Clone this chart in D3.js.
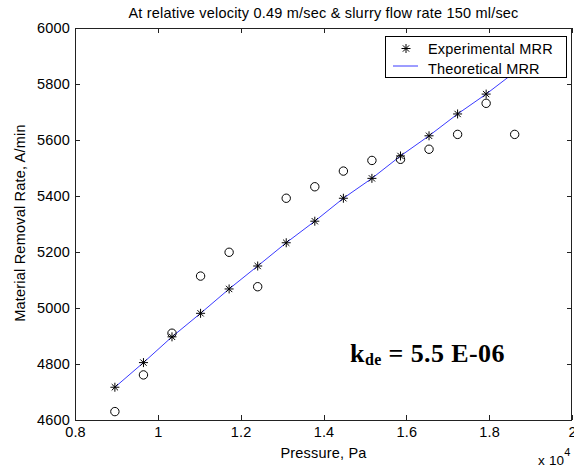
<!DOCTYPE html>
<html>
<head>
<meta charset="utf-8">
<script src="https://cdn.jsdelivr.net/npm/d3@7"></script>
<style>
  html, body { margin: 0; padding: 0; background: #fff; }
  svg { display: block; }
  text { font-family: "Liberation Sans", Arial, Helvetica, sans-serif; fill: #000; letter-spacing: 0.2px; }
</style>
</head>
<body>
<svg id="chart" width="574" height="469"></svg>
<script>
// Pressure (Pa) at each test point
const pressure = [8963, 9653, 10342, 11032, 11721, 12411, 13100, 13790,
                  14480, 15169, 15859, 16548, 17238, 17927, 18616];
// Theoretical MRR (A/min), drawn as the line and the * markers
const theoretical = [4717, 4805, 4897, 4981, 5068, 5150, 5233, 5310,
                     5392, 5463, 5543, 5615, 5693, 5764, 5842];
// Measured MRR (A/min), drawn as open circles
const measured = [4630, 4761, 4910, 5114, 5199, 5076, 5392, 5433,
                  5489, 5527, 5531, 5567, 5620, 5731, 5620];
const xTicks = [8000, 10000, 12000, 14000, 16000, 18000, 20000];
const xTickLabels = ["0.8", "1", "1.2", "1.4", "1.6", "1.8", "2"];
const yTicks = [4600, 4800, 5000, 5200, 5400, 5600, 5800, 6000];
const legendLabels = ["Experimental MRR", "Theoretical MRR"];

const svg = d3.select("#chart");
const L = 75, R = 572, T = 28, B = 420;
const x = d3.scaleLinear().domain([8000, 20000]).range([L, R]);
const y = d3.scaleLinear().domain([4600, 6000]).range([B, T]);
const axisColor = "#222";
const fs = 14.5;

// title, centred over the axes
svg.append("text").attr("x", (L + R) / 2).attr("y", 18).attr("text-anchor", "middle")
  .attr("font-size", fs).text("At relative velocity 0.49 m/sec & slurry flow rate 150 ml/sec");

const plot = svg.append("g");

// box-style axes with inward ticks on all four sides
const tickLen = 5;
const bottom = d3.axisBottom(x).tickValues(xTicks).tickSize(0).tickPadding(7)
  .tickFormat((d, i) => xTickLabels[i]);
const gx = svg.append("g").attr("transform", `translate(0,${B})`).call(bottom);
gx.select(".domain").remove();
gx.selectAll("text").attr("font-size", fs).attr("font-family", null);

const left = d3.axisLeft(y).tickValues(yTicks).tickSize(0).tickPadding(5).tickFormat(d3.format("d"));
const gy = svg.append("g").attr("transform", `translate(${L},0)`).call(left);
gy.select(".domain").remove();
gy.selectAll("text").attr("font-size", fs).attr("font-family", null);

const ticks = svg.append("g").attr("stroke", axisColor).attr("stroke-width", 1);
xTicks.forEach(v => {
  const px = Math.round(x(v)) + 0.5;
  ticks.append("line").attr("x1", px).attr("x2", px).attr("y1", B).attr("y2", B - tickLen);
  ticks.append("line").attr("x1", px).attr("x2", px).attr("y1", T).attr("y2", T + tickLen);
});
yTicks.forEach(v => {
  const py = Math.round(y(v)) + 0.5;
  ticks.append("line").attr("x1", L).attr("x2", L + tickLen).attr("y1", py).attr("y2", py);
  ticks.append("line").attr("x1", R).attr("x2", R - tickLen).attr("y1", py).attr("y2", py);
});
svg.append("rect").attr("x", L + 0.5).attr("y", T + 0.5).attr("width", R - L - 1).attr("height", B - T)
  .attr("fill", "none").attr("stroke", axisColor).attr("stroke-width", 1);

// theoretical line
const line = d3.line().x((d, i) => x(pressure[i])).y(d => y(d));
plot.append("path").datum(theoretical).attr("d", line)
  .attr("fill", "none").attr("stroke", "#3a3aff").attr("stroke-width", 1);

// star marker (MATLAB-style '*')
function starPath(s) {
  const a = s * 0.7;
  return `M${-s},0H${s}M0,${-s}V${s}M${-a},${-a}L${a},${a}M${-a},${a}L${a},${-a}`;
}
plot.selectAll(".star").data(theoretical).join("path").attr("class", "star")
  .attr("transform", (d, i) => `translate(${x(pressure[i])},${y(d)})`)
  .attr("d", starPath(4.5)).attr("stroke", "#000").attr("stroke-width", 1).attr("fill", "none");

// measured circles
plot.selectAll(".circ").data(measured).join("circle").attr("class", "circ")
  .attr("cx", (d, i) => x(pressure[i])).attr("cy", d => y(d)).attr("r", 4.2)
  .attr("fill", "none").attr("stroke", "#000").attr("stroke-width", 1);

// legend
const lg = svg.append("g");
lg.append("rect").attr("x", 385.5).attr("y", 36.5).attr("width", 181).attr("height", 41)
  .attr("fill", "#fff").attr("stroke", "#000").attr("stroke-width", 1);
lg.append("path").attr("transform", "translate(406,48.5)").attr("d", starPath(4.5))
  .attr("stroke", "#000").attr("fill", "none");
lg.append("line").attr("x1", 393).attr("x2", 418).attr("y1", 66).attr("y2", 66)
  .attr("stroke", "#3a3aff").attr("stroke-width", 1);
legendLabels.forEach((t, i) => {
  lg.append("text").attr("x", 428).attr("y", 53.5 + i * 20).attr("font-size", fs).text(t);
});

// axis labels
svg.append("text").attr("x", (L + R) / 2).attr("y", 458).attr("text-anchor", "middle")
  .attr("font-size", fs).text("Pressure, Pa");
svg.append("text").attr("transform", "translate(25,223) rotate(-90)").attr("text-anchor", "middle")
  .attr("font-size", fs).text("Material Removal Rate, A/min");
const sc = svg.append("text").attr("x", 538).attr("y", 465).attr("font-size", 13.5);
sc.append("tspan").text("x 10");
sc.append("tspan").attr("dy", -9).attr("font-size", 11).text("4");

// rate-constant annotation
const k = svg.append("text").attr("x", 350).attr("y", 362)
  .style("font-family", "'Liberation Serif', 'Times New Roman', serif")
  .style("letter-spacing", "0.4px")
  .attr("font-weight", "bold").attr("font-size", 26);
k.append("tspan").text("k");
k.append("tspan").attr("dy", 3).attr("font-size", 16).text("de");
k.append("tspan").attr("dy", -3).text(" = 5.5 E-06");
</script>
</body>
</html>
